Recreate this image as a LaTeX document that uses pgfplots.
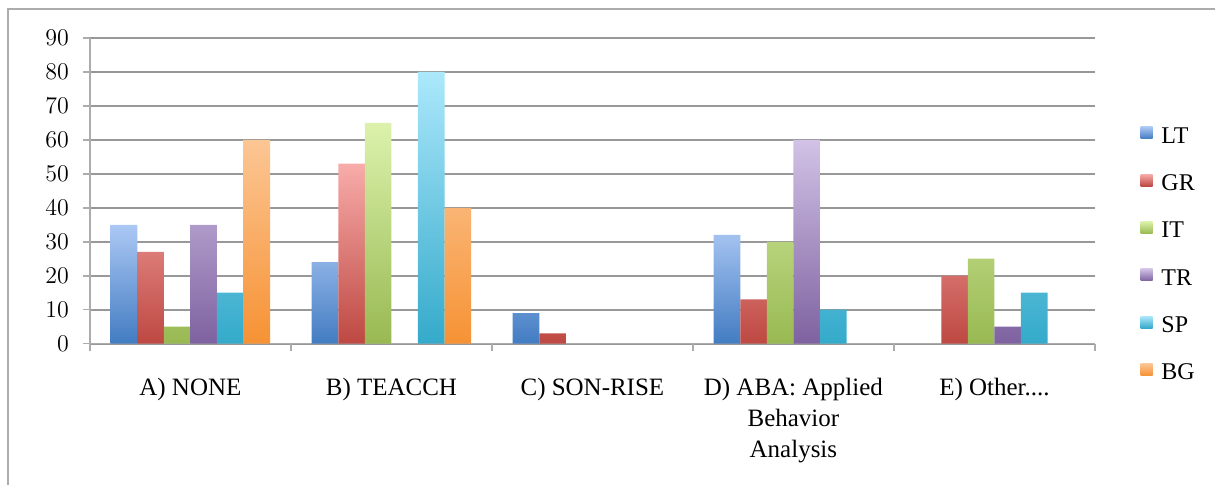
\documentclass[border=0pt]{standalone}
\usepackage{pgfplots}
\pgfplotsset{compat=1.18}
\usepackage{fontspec}
\setmainfont{Liberation Serif}

\definecolor{ltT}{RGB}{172,200,244}\definecolor{ltB}{RGB}{66,124,194}
\definecolor{grT}{RGB}{248,172,170}\definecolor{grB}{RGB}{190,72,66}
\definecolor{itT}{RGB}{220,242,172}\definecolor{itB}{RGB}{152,185,82}
\definecolor{trT}{RGB}{210,194,230}\definecolor{trB}{RGB}{126,98,160}
\definecolor{spT}{RGB}{172,232,252}\definecolor{spB}{RGB}{52,170,202}
\definecolor{bgT}{RGB}{252,198,148}\definecolor{bgB}{RGB}{246,146,52}
\definecolor{gridc}{RGB}{152,152,152}
\definecolor{axc}{RGB}{172,172,172}

\begin{document}
\begin{tikzpicture}
% page size and outer frame (left and top edges only are visible)
\path (0pt,0pt) rectangle (608pt,242.5pt);
\draw[axc, line width=1.2pt] (4pt,0pt) -- (4pt,238pt) -- (608pt,238pt);

\begin{axis}[
  at={(45pt,70.5pt)}, anchor=south west,
  scale only axis, width=503pt, height=153pt,
  xmin=0.5, xmax=5.5, ymin=0, ymax=90,
  ybar=0pt, bar width=13.3pt,
  axis x line*=bottom, axis y line*=left,
  axis line style={axc, line width=0.8pt},
  ymajorgrids, grid style={gridc, line width=1pt},
  tick align=outside, major tick length=3.5pt,
  tick style={axc, line width=0.8pt},
  ytick={0,10,20,30,40,50,60,70,80,90},
  xtick={0.5,1.5,2.5,3.5,4.5,5.5}, xticklabels={,,,,,},
  extra x ticks={1,2,3,4,5},
  extra x tick labels={{A) NONE}, {B) TEACCH}, {C) SON-RISE}, {D) ABA: Applied\\Behavior\\Analysis}, {E) Other{....}}},
  extra x tick style={major tick length=0pt, grid=none},
  xticklabel style={font=\fontsize{12.5}{15.7}\selectfont, align=center, yshift=-13.5pt},
  yticklabel style={font=\fontsize{12}{14}\selectfont, xshift=-3.5pt},
  legend style={at={(1.039,0.735)}, anchor=north west, draw=none, fill=none,
    font=\fontsize{12}{14}\selectfont, row sep=10.3pt},
  legend cell align=left,
  legend image code/.code={\path[#1,draw=none] (0pt,-1pt) rectangle (6pt,5pt);
    \path (6pt,2pt) -- (8.5pt,2pt);},
]
\addplot[draw=none, top color=ltT, bottom color=ltB] coordinates {(1,35) (2,24) (3,9) (4,32)};
\addplot[draw=none, top color=grT, bottom color=grB] coordinates {(1,27) (2,53) (3,3) (4,13) (5,20)};
\addplot[draw=none, top color=itT, bottom color=itB] coordinates {(1,5) (2,65) (4,30) (5,25)};
\addplot[draw=none, top color=trT, bottom color=trB] coordinates {(1,35) (4,60) (5,5)};
\addplot[draw=none, top color=spT, bottom color=spB] coordinates {(1,15) (2,80) (4,10) (5,15)};
\addplot[draw=none, top color=bgT, bottom color=bgB] coordinates {(1,60) (2,40)};
\legend{LT, GR, IT, TR, SP, BG}
\end{axis}
\end{tikzpicture}
\end{document}
